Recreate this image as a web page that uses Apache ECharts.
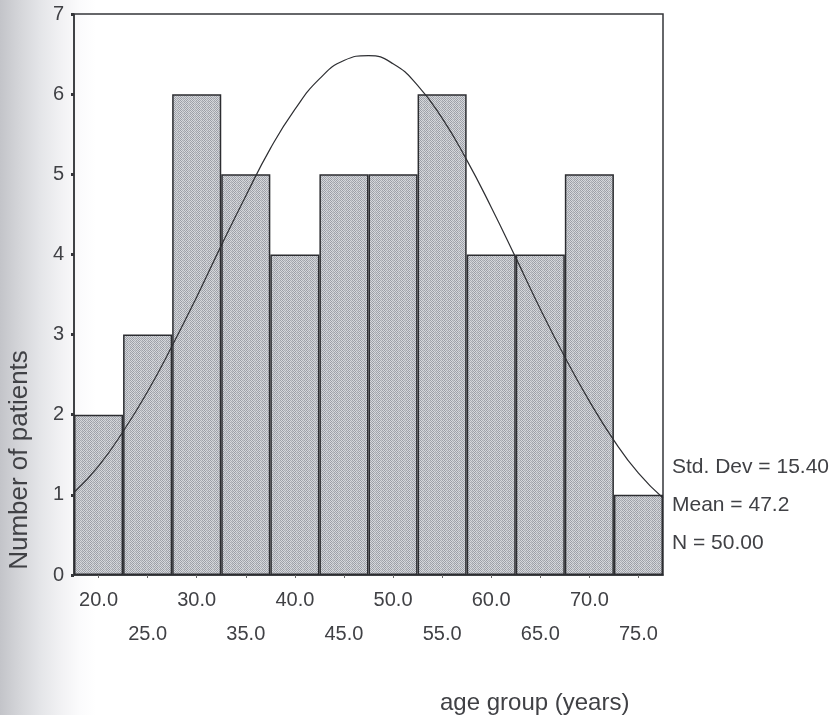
<!DOCTYPE html>
<html>
<head>
<meta charset="utf-8">
<script src="https://cdn.jsdelivr.net/npm/echarts@6/dist/echarts.min.js"></script>
<style>
  html, body { margin: 0; padding: 0; }
  body {
    width: 838px; height: 715px;
    background: linear-gradient(to right, #c3c4c9 0px, #d3d4d8 18px, #e4e5e8 40px, #f2f2f4 62px, #fbfbfc 80px, #ffffff 96px);
  }
  #chart { width: 838px; height: 715px; }
</style>
</head>
<body>
<div id="chart"></div>
<script>
// Age-group bins (midpoints) and patient counts per bin
const ageBins = ['20.0', '25.0', '30.0', '35.0', '40.0', '45.0', '50.0', '55.0', '60.0', '65.0', '70.0', '75.0'];
const patientCounts = [2, 3, 6, 5, 4, 5, 5, 6, 4, 4, 5, 1];

// Fitted normal curve, sampled along the age axis
const curveAges = [17.5, 20, 22.5, 25, 27.5, 30, 32.5, 35, 37.5, 40, 42.5, 45, 47.5, 50, 52.5, 55, 57.5, 60, 62.5, 65, 67.5, 70, 72.5, 75, 77.5];
const curveValues = [1.03, 1.36, 1.79, 2.29, 2.86, 3.47, 4.11, 4.73, 5.32, 5.81, 6.19, 6.42, 6.48, 6.38, 6.11, 5.70, 5.18, 4.59, 3.96, 3.32, 2.72, 2.17, 1.68, 1.27, 0.96];

// Summary statistics shown beside the plot
const statLines = ['Std. Dev = 15.40', 'Mean = 47.2', 'N = 50.00'];

const yTicks = [0, 1, 2, 3, 4, 5, 6, 7];

// Halftone-like grey fill for the bars
function makeHalftone() {
  const c = document.createElement('canvas');
  c.width = 6; c.height = 6;
  const ctx = c.getContext('2d');
  ctx.fillStyle = '#d6d8dc';
  ctx.fillRect(0, 0, 6, 6);
  const dark = ['#9a9da5', '#aaadb3', '#a0a3aa'];
  let k = 0;
  for (let y = 0; y < 6; y++) {
    for (let x = 0; x < 6; x++) {
      if ((x + y) % 2 === 0) {
        ctx.fillStyle = dark[k % 3];
        ctx.fillRect(x, y, 1, 1);
        k++;
      } else if ((x * 5 + y * 3) % 7 === 0) {
        ctx.fillStyle = '#c4c6cb';
        ctx.fillRect(x, y, 1, 1);
      }
    }
  }
  return c;
}

const ink = '#35363a';
const textInk = '#404145';
const font = 'Liberation Sans, Arial, sans-serif';

const chart = echarts.init(document.getElementById('chart'), null, { renderer: 'canvas' });

chart.setOption({
  backgroundColor: 'transparent',
  animation: false,
  grid: {
    left: 74, right: 175, top: 14, bottom: 140,
    show: true, borderColor: ink, borderWidth: 1.5
  },
  xAxis: [
    {
      type: 'category',
      data: ageBins,
      boundaryGap: true,
      axisLine: { show: true, lineStyle: { color: ink, width: 1.5 } },
      axisTick: { show: true, alignWithLabel: true, length: 3, lineStyle: { color: '#666', width: 1 } },
      axisLabel: {
        color: textInk, fontFamily: font, fontSize: 20, margin: 8,
        lineHeight: 34, interval: 0,
        formatter: function (v, i) { return i % 2 ? '\n' + v : v; }
      },
      splitLine: { show: false }
    },
    {
      type: 'value',
      min: 17.5, max: 77.5,
      show: false
    }
  ],
  yAxis: {
    type: 'value',
    min: yTicks[0], max: yTicks[yTicks.length - 1], interval: 1,
    axisLine: { show: true, lineStyle: { color: ink, width: 1.5 } },
    axisTick: { show: true, length: 3, lineStyle: { color: ink, width: 3 } },
    axisLabel: { color: textInk, fontFamily: font, fontSize: 20, margin: 10 },
    splitLine: { show: false }
  },
  series: [
    {
      type: 'bar',
      data: patientCounts,
      barWidth: '100%',
      barCategoryGap: '0%',
      itemStyle: {
        color: { image: makeHalftone(), repeat: 'repeat' },
        borderColor: '#2c2d31',
        borderWidth: 1.5
      },
      z: 2
    },
    {
      type: 'line',
      xAxisIndex: 1,
      data: curveAges.map(function (a, i) { return [a, curveValues[i]]; }),
      smooth: true,
      showSymbol: false,
      symbol: 'none',
      lineStyle: { color: '#2e2f33', width: 1.2 },
      z: 3
    }
  ],
  graphic: [
    {
      type: 'text', x: 20, y: 460, rotation: Math.PI / 2,
      style: {
        text: 'Number of patients', fill: textInk, font: '26px ' + font,
        textAlign: 'center', textVerticalAlign: 'middle'
      }
    },
    {
      type: 'text', left: 672, top: 457,
      style: { text: statLines[0], fill: textInk, font: '21px ' + font }
    },
    {
      type: 'text', left: 672, top: 495,
      style: { text: statLines[1], fill: textInk, font: '21px ' + font }
    },
    {
      type: 'text', left: 672, top: 533,
      style: { text: statLines[2], fill: textInk, font: '21px ' + font }
    },
    {
      type: 'text', left: 440, top: 691,
      style: { text: 'age group (years)', fill: textInk, font: '24px ' + font }
    }
  ]
});
</script>
</body>
</html>
